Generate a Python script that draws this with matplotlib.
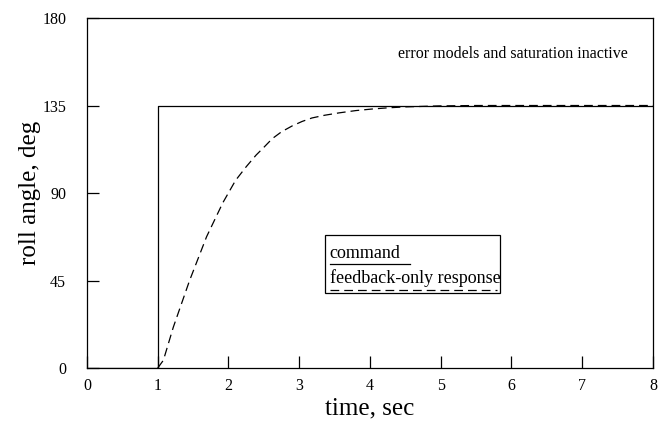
import numpy as np
import matplotlib
matplotlib.use("Agg")
import matplotlib.pyplot as plt
from matplotlib.patches import Rectangle

# command: step at t = 1 s to 135 deg
cmd_t = [0.0, 1.0, 1.0, 8.0]
cmd_deg = [0.0, 0.0, 135.0, 135.0]

# feedback-only response
resp_t = [1.0, 1.08, 1.22, 1.45, 1.69, 1.92, 2.1, 2.25, 2.39, 2.5, 2.62, 2.75,
          2.9, 3.04, 3.18, 3.36, 3.56, 3.8, 4.03, 4.25, 4.5, 4.97, 5.5, 6.0,
          7.0, 8.0]
resp_deg = [0.0, 4.0, 21.0, 45.0, 67.5, 85.0, 96.5, 103.5, 109.5, 113.5, 118.0,
            121.5, 124.5, 126.8, 128.6, 130.0, 131.2, 132.4, 133.2, 133.8,
            134.3, 134.8, 135.0, 135.0, 135.0, 135.0]

x_ticks = [0, 1, 2, 3, 4, 5, 6, 7, 8]
y_ticks = [0, 45, 90, 135, 180]

plt.rcParams['font.family'] = ['Liberation Serif', 'DejaVu Serif']

fig = plt.figure(figsize=(6.58, 4.23), dpi=100)
ax = fig.add_axes([0.1322, 0.130, 0.8602, 0.8274])

ax.plot(cmd_t, cmd_deg, color='black', lw=0.9)
ax.plot(resp_t, resp_deg, color='black', lw=0.9, dashes=(7, 4))

ax.set_xlim(0, 8)
ax.set_ylim(0, 180)
ax.set_xticks(x_ticks)
ax.set_yticks(y_ticks)
ax.tick_params(direction='in', length=8.5, width=0.9, labelsize=11.5,
               top=False, right=False)
ax.tick_params(axis='x', pad=7)
ax.tick_params(axis='y', pad=15)
for s in ax.spines.values():
    s.set_linewidth(0.9)

ax.set_xlabel('time, sec', fontsize=18, labelpad=3)
ax.set_ylabel('roll angle, deg', fontsize=18, labelpad=1)

ax.text(0.955, 0.887, 'error models and saturation inactive',
        transform=ax.transAxes, ha='right', va='baseline', fontsize=11.5)

# hand-drawn legend box
tr = ax.transAxes
ax.add_patch(Rectangle((0.4205, 0.214), 0.3092, 0.166, transform=tr,
                       fill=False, lw=0.9, color='black'))
ax.text(0.429, 0.314, 'command', transform=tr, va='baseline', fontsize=13)
ax.plot([0.429, 0.571], [0.297, 0.297], transform=tr, color='black', lw=0.9)
ax.text(0.429, 0.243, 'feedback-only response', transform=tr,
        va='baseline', fontsize=13)
ax.plot([0.429, 0.724], [0.223, 0.223], transform=tr, color='black', lw=0.9,
        dashes=(7, 4))

fig.savefig('out.png', dpi=100)
